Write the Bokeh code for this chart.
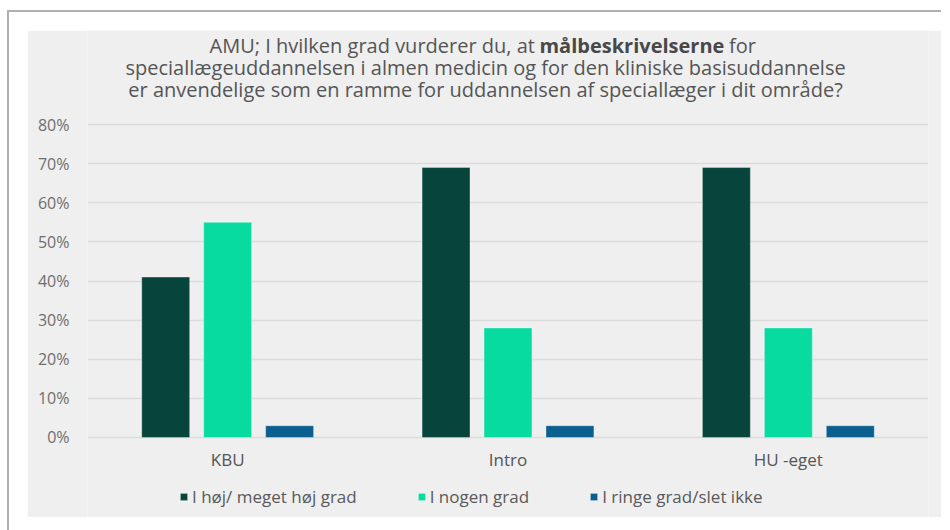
from bokeh.plotting import figure
from bokeh.models import (ColumnDataSource, FactorRange, Range1d, Label, Legend,
                          LegendItem, PrintfTickFormatter, FixedTicker)
from bokeh.transform import dodge
from bokeh.embed import file_html
from bokeh.resources import INLINE

# ---- data ----
categories = ["KBU", "Intro", "HU -eget"]
series_names = ["I høj/ meget høj grad", "I nogen grad", "I ringe grad/slet ikke"]
hoej = [41, 69, 69]
nogen = [55, 28, 28]
ringe = [3, 3, 3]
y_ticks = [0, 10, 20, 30, 40, 50, 60, 70, 80]
title_left = "AMU; I hvilken grad vurderer du, at"
title_bold = "målbeskrivelserne"
title_right = "for"
title_line2 = "speciallægeuddannelsen i almen medicin og for den kliniske basisuddannelse"
title_line3 = "er anvendelige som en ramme for uddannelsen af speciallæger i dit område?"

colors = ["#07443b", "#07db9f", "#0a5f8e"]
FONT = "Open Sans"
PANEL = "#efefef"

src = ColumnDataSource(dict(cat=categories, hoej=hoej, nogen=nogen, ringe=ringe))

# The frame spans the whole panel height so the title and legend are not clipped;
# the value axis still shows 0-80 %.
p = figure(x_range=FactorRange(*categories), y_range=Range1d(-20.45, 104.03),
           width=914, height=487, output_backend="svg", toolbar_location=None,
           background_fill_color=PANEL, border_fill_color=PANEL,
           min_border_left=60, min_border_right=13, min_border_top=0,
           min_border_bottom=0)
p.outline_line_color = None

bw = 0.171
off = 0.221
r1 = p.vbar(x=dodge("cat", -off, range=p.x_range), top="hoej", width=bw, source=src,
            fill_color=colors[0], line_color="#ffffff", line_alpha=0.35, line_width=1)
r2 = p.vbar(x=dodge("cat", 0.0, range=p.x_range), top="nogen", width=bw, source=src,
            fill_color=colors[1], line_color="#ffffff", line_alpha=0.35, line_width=1)
r3 = p.vbar(x=dodge("cat", off, range=p.x_range), top="ringe", width=bw, source=src,
            fill_color=colors[2], line_color="#ffffff", line_alpha=0.35, line_width=1)

# axes
p.yaxis.ticker = FixedTicker(ticks=y_ticks)
p.yaxis.formatter = PrintfTickFormatter(format="%d%%")
p.xaxis.fixed_location = 0
for ax in (p.xaxis, p.yaxis):
    ax.axis_line_color = None
    ax.major_tick_line_color = None
    ax.minor_tick_line_color = None
    ax.major_label_text_font = FONT
    ax.major_label_text_font_size = "16px"
    ax.major_label_text_color = "#6e6e6e"
p.yaxis.major_label_standoff = 12
p.xaxis.major_label_standoff = 5
p.xaxis.major_label_text_font_size = "17px"
p.xaxis.major_label_text_color = "#555555"

p.xgrid.grid_line_color = None
p.ygrid.grid_line_color = "#dcdcdc"
p.ygrid.grid_line_width = 1.5

# legend
legend = Legend(items=[LegendItem(label=series_names[0], renderers=[r1]),
                       LegendItem(label=series_names[1], renderers=[r2]),
                       LegendItem(label=series_names[2], renderers=[r3])],
                orientation="horizontal", location=(92, 9),
                glyph_width=9, glyph_height=9, label_standoff=4, spacing=60,
                background_fill_alpha=0, border_line_color=None,
                label_text_font=FONT, label_text_font_size="17px",
                label_text_color="#595959", padding=0, margin=0)
p.add_layout(legend)

# title (three lines, bold word in first line)
TSIZE = "20px"
TCOL = "#555555"
cx = 1.42
bold_c = 1.942
gap = 0.346
y1, y2, y3 = 100.2, 94.6, 88.9
p.add_layout(Label(x=bold_c - gap, y=y1, text=title_left, text_align="right",
                   text_baseline="middle", text_font=FONT, text_font_size=TSIZE,
                   text_color=TCOL))
p.add_layout(Label(x=bold_c, y=y1, text=title_bold, text_align="center",
                   text_baseline="middle", text_font=FONT, text_font_size=TSIZE,
                   text_font_style="bold", text_color="#484848"))
p.add_layout(Label(x=bold_c + gap, y=y1, text=title_right, text_align="left",
                   text_baseline="middle", text_font=FONT, text_font_size=TSIZE,
                   text_color=TCOL))
p.add_layout(Label(x=cx, y=y2, text=title_line2, text_align="center",
                   text_baseline="middle", text_font=FONT, text_font_size=TSIZE,
                   text_color=TCOL))
p.add_layout(Label(x=cx, y=y3, text=title_line3, text_align="center",
                   text_baseline="middle", text_font=FONT, text_font_size=TSIZE,
                   text_color=TCOL))

p.margin = (30, 0, 0, 27)
p.styles = {"outline": "2px solid #b0b0b0", "outline-offset": "18px",
            "clip-path": "inset(-30px 0px -14px -30px)"}

open("out.html", "w").write(file_html(p, INLINE))
